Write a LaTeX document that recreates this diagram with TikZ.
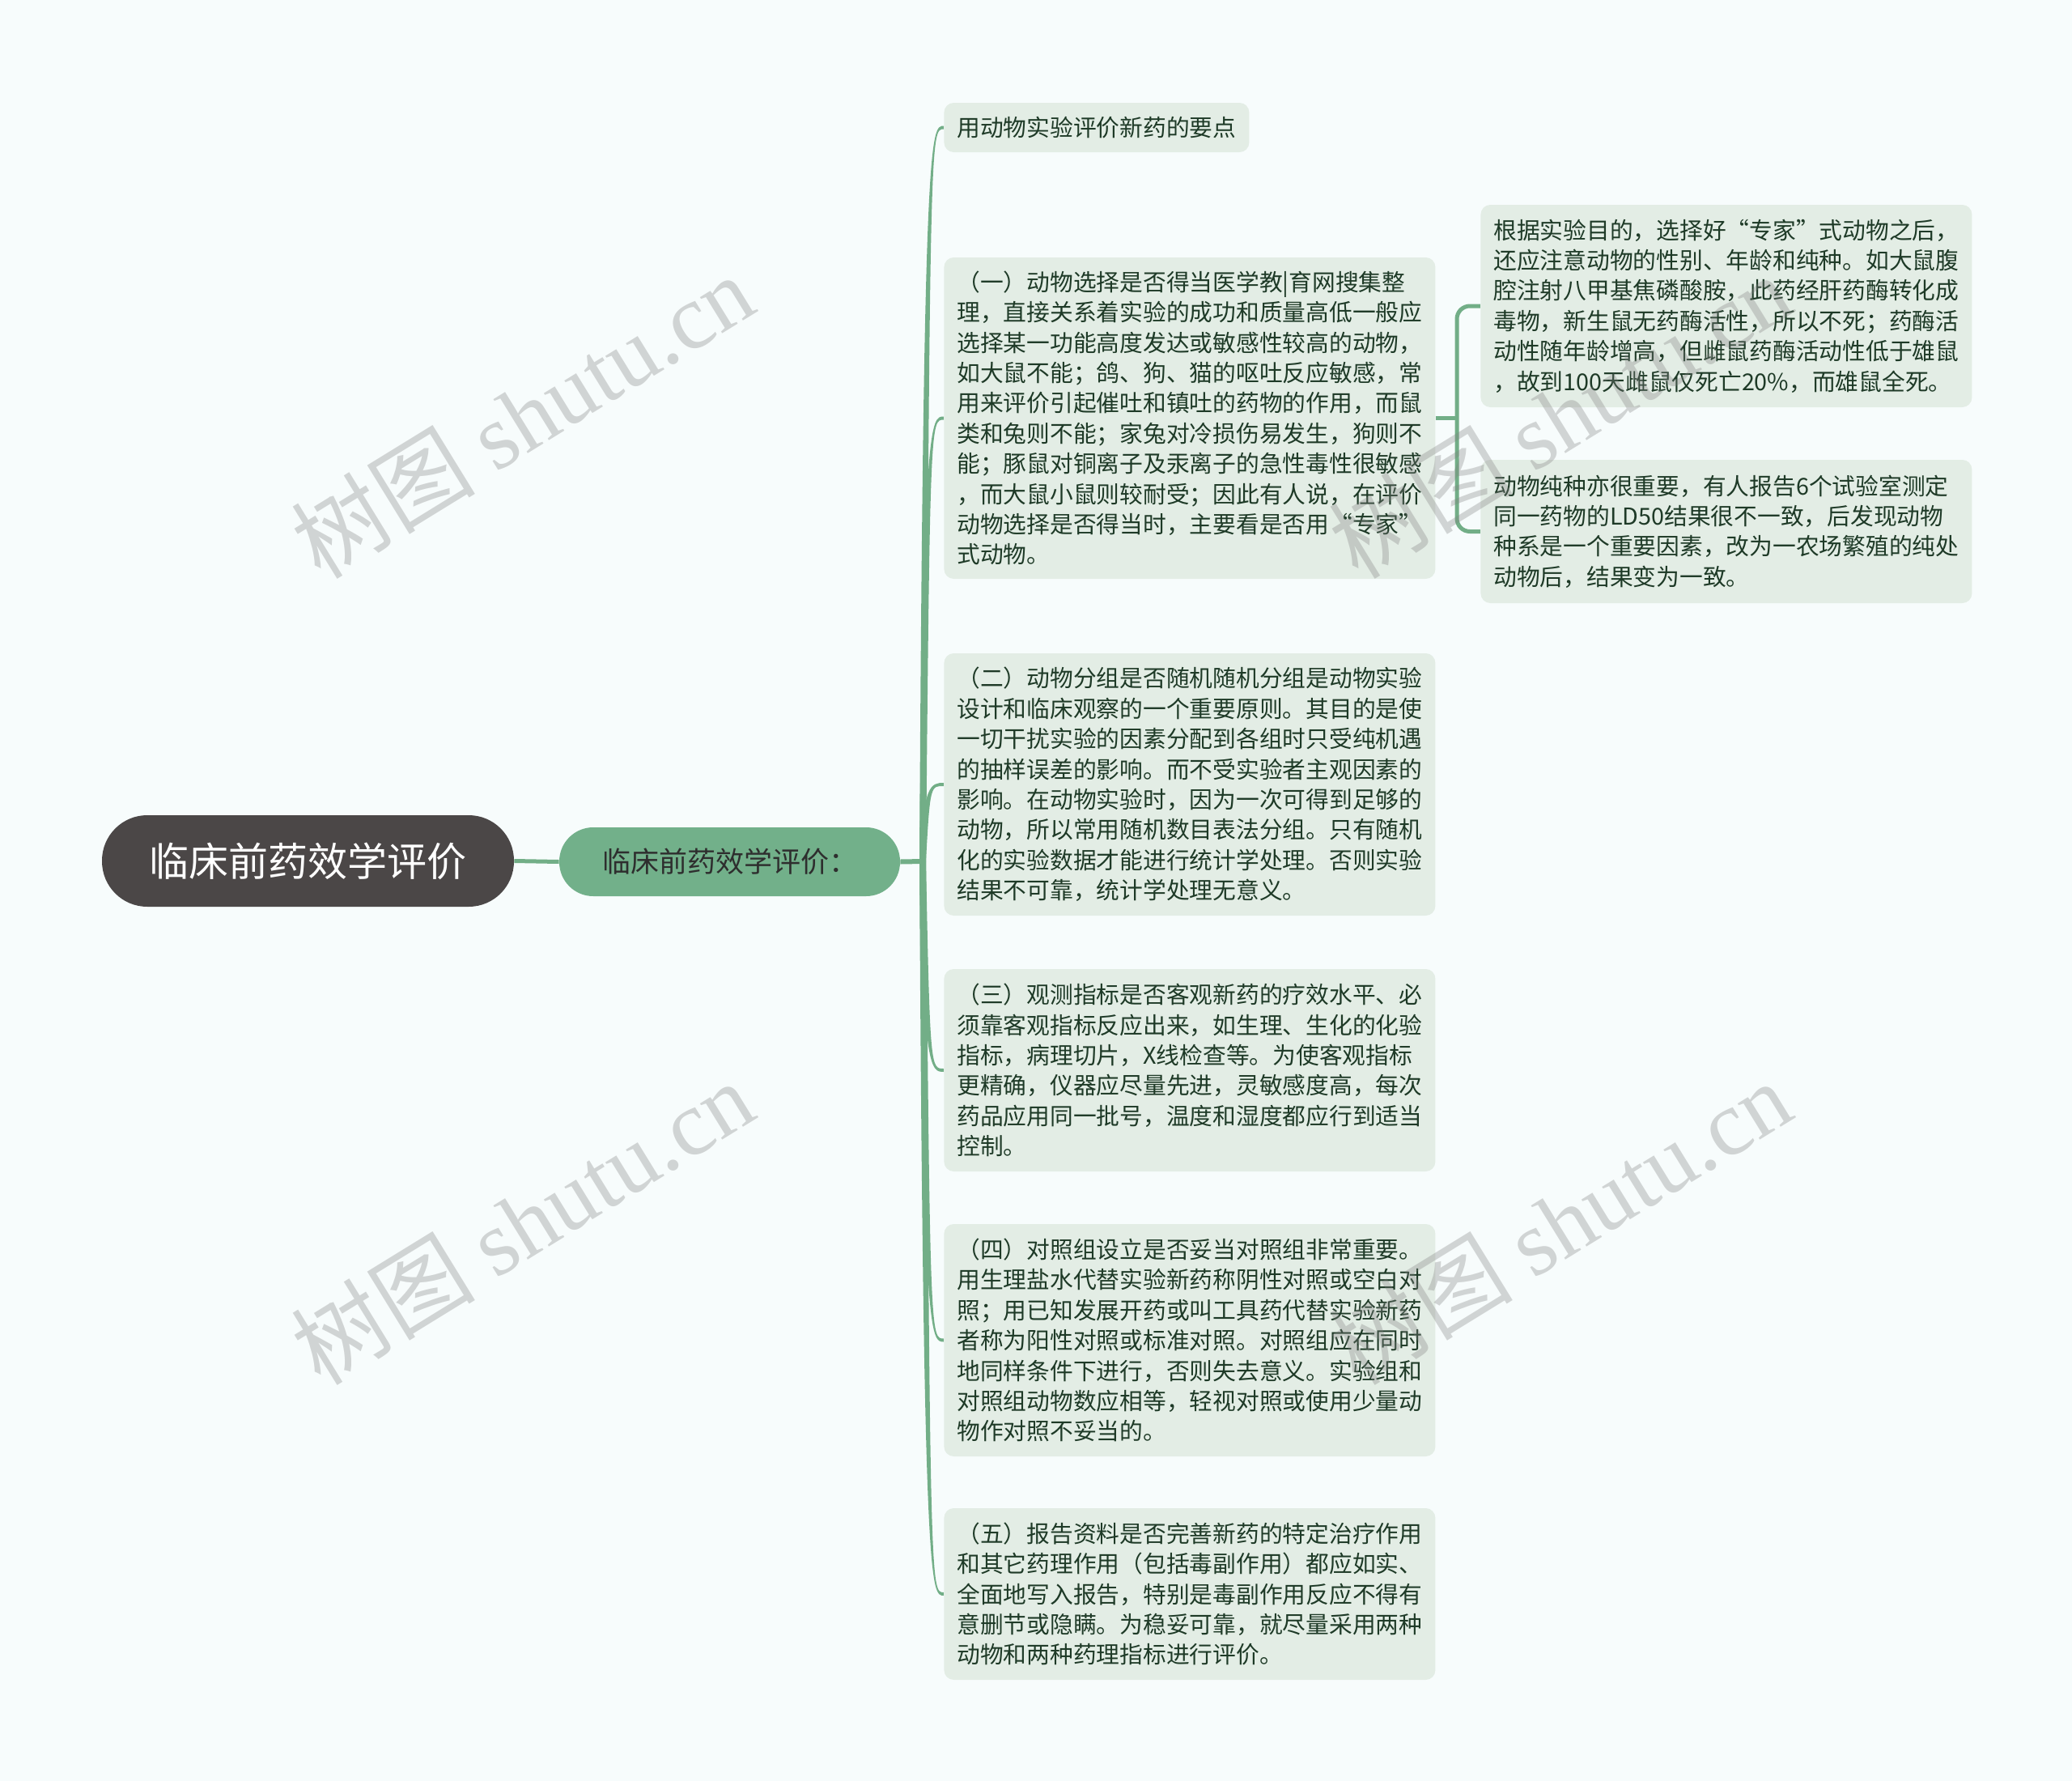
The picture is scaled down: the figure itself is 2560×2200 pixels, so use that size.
\documentclass[tikz,border=0pt]{standalone}
\usepackage{fontspec}
\setmainfont{Noto Sans CJK SC}
\newfontfamily\wmserif{Liberation Serif}
\newfontfamily\wmcjk{Noto Sans CJK SC}
\usetikzlibrary{calc}
\pgfdeclarelayer{bgl}
\pgfdeclarelayer{linel}
\pgfdeclarelayer{frontl}
\pgfsetlayers{bgl,linel,main,frontl}
\definecolor{bgc}{HTML}{F7FCFC}
\definecolor{lc}{HTML}{72AE87}
\definecolor{leaffill}{HTML}{E3EDE5}
\definecolor{leaftext}{HTML}{1E3A27}
\definecolor{rootc}{HTML}{4B4747}
\definecolor{childc}{HTML}{72B08A}
\definecolor{childtext}{HTML}{2E2E2E}
\newcommand\mmbranch[2]{%
\fill[lc] ($(tr)+(-4,0)$) .. controls ($(tr |- #1.west)+(1,0)$) and ($(tr |- #1.west)+(10,{(#2)*2})$) .. ($(#1.west)+(0,{(#2)*2})$) -- ($(#1.west)+(0,{-(#2)*2})$) .. controls ($(tr |- #1.west)+(10,{-(#2)*2})$) and ($(tr |- #1.west)+(9,0)$) .. ($(tr)+(4,0)$) -- cycle;}
\begin{document}
\begin{tikzpicture}[x=0.5pt,y=-0.5pt,
  leafbox/.style={fill=leaffill, rounded corners=6pt, text=leaftext,
    font={\fontsize{14.375pt}{18.7pt}\selectfont}, inner xsep=8pt, inner ysep=0pt,
    align=left, text width=287.5pt, anchor=west},
  leafsingle/.style={fill=leaffill, rounded corners=6pt, text=leaftext,
    font={\fontsize{14.375pt}{18.7pt}\selectfont}, inner xsep=8pt, inner ysep=0pt, anchor=west},
  rootbox/.style={fill=rootc, text=white, minimum width=254.5pt, minimum height=56.5pt,
    rounded corners=28pt, inner sep=0pt, font={\fontsize{24.5pt}{28pt}\selectfont}},
  childbox/.style={fill=childc, text=childtext, minimum width=210.5pt, minimum height=42.5pt,
    rounded corners=21pt, inner sep=0pt, font={\fontsize{17.5pt}{21pt}\selectfont}},
  wmark/.style={text=gray, text opacity=0.32, rotate=31.6, inner sep=0pt,
    font={\fontsize{57pt}{64pt}\selectfont}},
  conn/.style={draw=lc, line width=2.5pt}
]
\begin{pgfonlayer}{bgl}
\fill[bgc] (0,0) rectangle (2560,2200);
\end{pgfonlayer}
\useasboundingbox (0,0) rectangle (2560,2200);

\node[rootbox] (root) at (380.5,1063.5) {临床前药效学评价};
\node[childbox] (child) at (901.5,1064.5) {临床前药效学评价：};

\node[leafsingle, minimum height=30.5pt] (l0) at (1166,157.5) {用动物实验评价新药的要点};

\node[leafbox, minimum height=198.5pt] (l1) at (1166,516.5) {（一）动物选择是否得当医学教|育网搜集整\\
理，直接关系着实验的成功和质量高低一般应\\
选择某一功能高度发达或敏感性较高的动物，\\
如大鼠不能；鸽、狗、猫的呕吐反应敏感，常\\
用来评价引起催吐和镇吐的药物的作用，而鼠\\
类和兔则不能；家兔对冷损伤易发生，狗则不\\
能；豚鼠对铜离子及汞离子的急性毒性很敏感\\
，而大鼠小鼠则较耐受；因此有人说，在评价\\
动物选择是否得当时，主要看是否用“专家”\\
式动物。};

\node[leafbox, minimum height=162pt] (l2) at (1166,969) {（二）动物分组是否随机随机分组是动物实验\\
设计和临床观察的一个重要原则。其目的是使\\
一切干扰实验的因素分配到各组时只受纯机遇\\
的抽样误差的影响。而不受实验者主观因素的\\
影响。在动物实验时，因为一次可得到足够的\\
动物，所以常用随机数目表法分组。只有随机\\
化的实验数据才能进行统计学处理。否则实验\\
结果不可靠，统计学处理无意义。};

\node[leafbox, minimum height=125pt] (l3) at (1166,1322) {（三）观测指标是否客观新药的疗效水平、必\\
须靠客观指标反应出来，如生理、生化的化验\\
指标，病理切片，X线检查等。为使客观指标\\
更精确，仪器应尽量先进，灵敏感度高，每次\\
药品应用同一批号，温度和湿度都应行到适当\\
控制。};

\node[leafbox, minimum height=143.5pt] (l4) at (1166,1655.5) {（四）对照组设立是否妥当对照组非常重要。\\
用生理盐水代替实验新药称阴性对照或空白对\\
照；用已知发展开药或叫工具药代替实验新药\\
者称为阳性对照或标准对照。对照组应在同时\\
地同样条件下进行，否则失去意义。实验组和\\
对照组动物数应相等，轻视对照或使用少量动\\
物作对照不妥当的。};

\node[leafbox, minimum height=106pt] (l5) at (1166,1969) {（五）报告资料是否完善新药的特定治疗作用\\
和其它药理作用（包括毒副作用）都应如实、\\
全面地写入报告，特别是毒副作用反应不得有\\
意删节或隐瞒。为稳妥可靠，就尽量采用两种\\
动物和两种药理指标进行评价。};

\node[leafbox, minimum height=125pt] (r1) at (1829,378) {根据实验目的，选择好“专家”式动物之后，\\
还应注意动物的性别、年龄和纯种。如大鼠腹\\
腔注射八甲基焦磷酸胺，此药经肝药酶转化成\\
毒物，新生鼠无药酶活性，所以不死；药酶活\\
动性随年龄增高，但雌鼠药酶活动性低于雄鼠\\
，故到100天雌鼠仅死亡20\%，而雄鼠全死。};

\node[leafbox, minimum height=88.5pt] (r2) at (1829,656.5) {动物纯种亦很重要，有人报告6个试验室测定\\
同一药物的LD50结果很不一致，后发现动物\\
种系是一个重要因素，改为一农场繁殖的纯处\\
动物后，结果变为一致。};

\begin{pgfonlayer}{linel}
\draw[conn] (root.east) -- (child.west);
\coordinate (tr) at (1140,1064);
\draw[draw=lc, line width=3pt] (child.east) -- (tr);
\mmbranch{l0}{-1}
\mmbranch{l1}{-1}
\mmbranch{l2}{-1}
\mmbranch{l3}{1}
\mmbranch{l4}{1}
\mmbranch{l5}{1}
\coordinate (bk) at (1800,516.5);
\draw[conn] (l1.east) -- (bk);
\draw[conn, rounded corners=8pt] (r1.west) -- (r1.west -| bk) -- (r2.west -| bk) -- (r2.west);
\end{pgfonlayer}

\begin{pgfonlayer}{frontl}
\node[wmark] (w1) at (645,514) {{\wmcjk 树图} {\wmserif shutu.cn}};
\node[wmark] (w2) at (645,1510) {{\wmcjk 树图} {\wmserif shutu.cn}};
\node[wmark] (w3) at (1927,514) {{\wmcjk 树图} {\wmserif shutu.cn}};
\node[wmark] (w4) at (1927,1510) {{\wmcjk 树图} {\wmserif shutu.cn}};
\end{pgfonlayer}
\end{tikzpicture}
\end{document}
